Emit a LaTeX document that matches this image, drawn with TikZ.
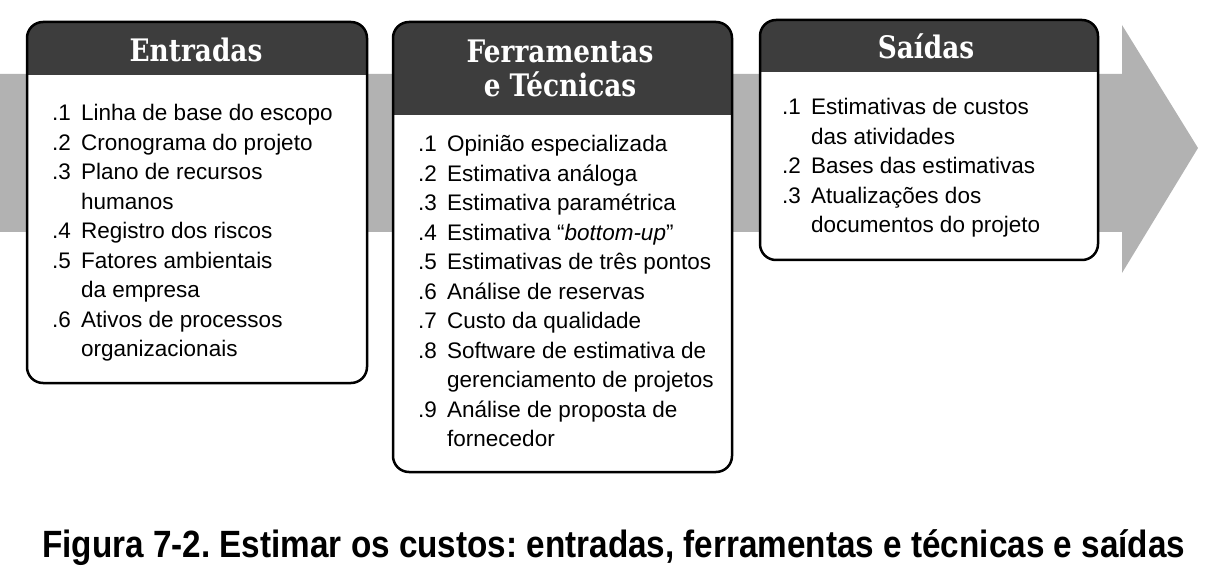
\documentclass[tikz,border=0pt]{standalone}
\usepackage{graphicx}
\usepackage{array}
\usepackage{fontspec}
\setmainfont{Liberation Sans}
\newfontfamily\hfont{DejaVu Serif}
\newfontfamily\capfont{Liberation Sans}
\frenchspacing
\newcommand\hdrtext[1]{\scalebox{0.85}[1]{\hfont\bfseries\fontsize{31}{36}\selectfont #1}}
\newcommand\itemlist[1]{\fontsize{22.5}{29.5}\selectfont\begin{tabular}[t]{@{}p{29pt}@{}l@{}}#1\end{tabular}}
\definecolor{bandgray}{gray}{0.7}
\definecolor{hdrgray}{gray}{0.24}
\tikzset{
  boxline/.style={draw=black, line width=2.5pt, rounded corners=16pt},
  hdrfill/.style={fill=hdrgray},
  hdrlabel/.style={anchor=base, inner sep=0pt, text=white},
  listtext/.style={anchor=base west, inner sep=0pt, text=black},
}
\begin{document}
\begin{tikzpicture}[x=1pt,y=-1pt]
\useasboundingbox (0,0) rectangle (1219,572);
% background arrow
\fill[bandgray] (0,74) -- (1122,74) -- (1122,25) -- (1198,148) -- (1122,273) -- (1122,232) -- (0,232) -- cycle;
% box 1
\fill[white, rounded corners=16pt] (27,22) rectangle (367,383);
\fill[hdrfill] (27,75) {[rounded corners=16pt] -- (27,22) -- (367,22)} -- (367,75) -- cycle;
\draw[boxline] (27,22) rectangle (367,383);
% box 2
\fill[white, rounded corners=16pt] (393,22) rectangle (732,472);
\fill[hdrfill] (393,115) {[rounded corners=16pt] -- (393,22) -- (732,22)} -- (732,115) -- cycle;
\draw[boxline] (393,22) rectangle (732,472);
% box 3
\fill[white, rounded corners=16pt] (760,20) rectangle (1098,260);
\fill[hdrfill] (760,72) {[rounded corners=16pt] -- (760,20) -- (1098,20)} -- (1098,72) -- cycle;
\draw[boxline] (760,20) rectangle (1098,260);
% headers
\node[hdrlabel] (h1) at (196,62) {\hdrtext{Entradas}};
\node[hdrlabel] (h2a) at (560,63) {\hdrtext{Ferramentas}};
\node[hdrlabel] (h2b) at (560,97) {\hdrtext{e Técnicas}};
\node[hdrlabel] (h3) at (926,59) {\hdrtext{Saídas}};
% lists
\node[listtext] (l1) at (52,121) {\itemlist{
.1 & Linha de base do escopo\\
.2 & Cronograma do projeto\\
.3 & Plano de recursos\\
   & humanos\\
.4 & Registro dos riscos\\
.5 & Fatores ambientais\\
   & da empresa\\
.6 & Ativos de processos\\
   & organizacionais}};
\node[listtext] (l2) at (418,152) {\itemlist{
.1 & Opinião especializada\\
.2 & Estimativa análoga\\
.3 & Estimativa paramétrica\\
.4 & Estimativa “\textit{bottom-up}”\\
.5 & Estimativas de três pontos\\
.6 & Análise de reservas\\
.7 & Custo da qualidade\\
.8 & Software de estimativa de\\
   & gerenciamento de projetos\\
.9 & Análise de proposta de\\
   & fornecedor}};
\node[listtext] (l3) at (782,115) {\itemlist{
.1 & Estimativas de custos\\
   & das atividades\\
.2 & Bases das estimativas\\
.3 & Atualizações dos\\
   & documentos do projeto}};
% caption
\node[anchor=base west, inner sep=0pt] (cap) at (42,557) {\resizebox{1143pt}{\height}{\capfont\bfseries\fontsize{38}{42}\selectfont Figura 7-2. Estimar os custos: entradas, ferramentas e técnicas e saídas}};
\end{tikzpicture}
\end{document}
